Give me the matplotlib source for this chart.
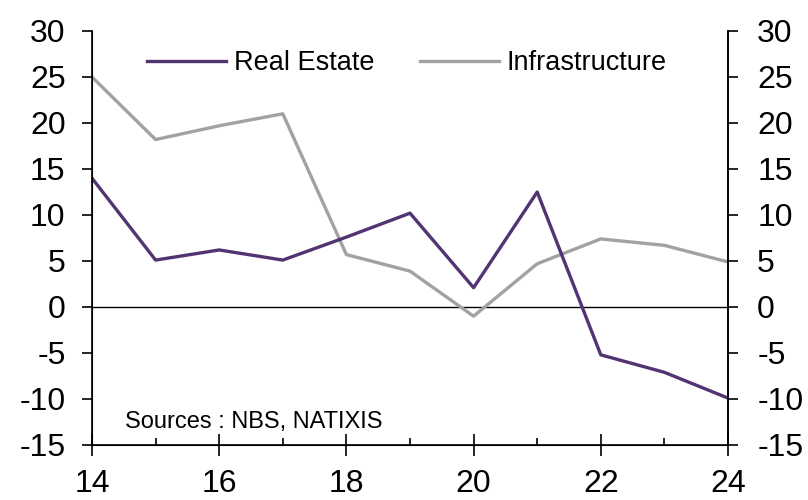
import matplotlib
matplotlib.use("Agg")
import matplotlib.pyplot as plt
from matplotlib.ticker import MultipleLocator

years = [14, 15, 16, 17, 18, 19, 20, 21, 22, 23, 24]
real_estate = [14.0, 5.1, 6.2, 5.1, 7.6, 10.2, 2.1, 12.5, -5.2, -7.1, -9.9]
infrastructure = [25.0, 18.2, 19.7, 21.0, 5.7, 3.9, -1.0, 4.7, 7.4, 6.7, 4.9]

plt.rcParams["font.family"] = ["Liberation Sans", "DejaVu Sans"]
plt.rcParams["axes.unicode_minus"] = False

fig = plt.figure(figsize=(8.08, 5.0), dpi=100)
ax = fig.add_axes([92 / 808, 0.11, 636 / 808, 0.828])

ax.axhline(0, color="black", lw=1.0, zorder=1)
ax.plot(years, real_estate, color="#533473", lw=2.4, label="Real Estate", zorder=3)
ax.plot(years, infrastructure, color="#a2a2a2", lw=2.4, label="Infrastructure", zorder=2)

ax.set_xlim(14, 24)
ax.set_ylim(-15, 30)
ax.yaxis.set_major_locator(MultipleLocator(5))
ax.xaxis.set_major_locator(MultipleLocator(2))
ax.xaxis.set_minor_locator(MultipleLocator(1))

ax.spines["top"].set_visible(False)
for s in ("left", "right", "bottom"):
    ax.spines[s].set_linewidth(1.2)

ax.tick_params(axis="y", direction="out", length=7, width=1.2, labelsize=23, pad=12)
ax.tick_params(axis="x", which="major", direction="inout", length=16, width=1.2,
               labelsize=23, pad=9)
ax.tick_params(axis="x", which="minor", direction="in", length=5, width=1.2)

# mirrored scale on the right
ax2 = ax.twinx()
ax2.set_ylim(ax.get_ylim())
ax2.yaxis.set_major_locator(MultipleLocator(5))
ax2.spines["top"].set_visible(False)
ax2.spines["right"].set_linewidth(1.2)
ax2.tick_params(axis="y", direction="out", length=7, width=1.2, labelsize=23, pad=14)

fig.legend(*ax.get_legend_handles_labels(), loc="center left",
           bbox_to_anchor=(147 / 808, 1 - 63 / 500), ncol=2, frameon=False,
           fontsize=19.5, handlelength=2.9, handletextpad=0.3, columnspacing=1.7,
           borderpad=0, borderaxespad=0)

fig.text(125 / 808, 1 - 428 / 500, "Sources : NBS, NATIXIS",
         fontsize=17, va="baseline", ha="left")

fig.savefig("out.png", dpi=100)
